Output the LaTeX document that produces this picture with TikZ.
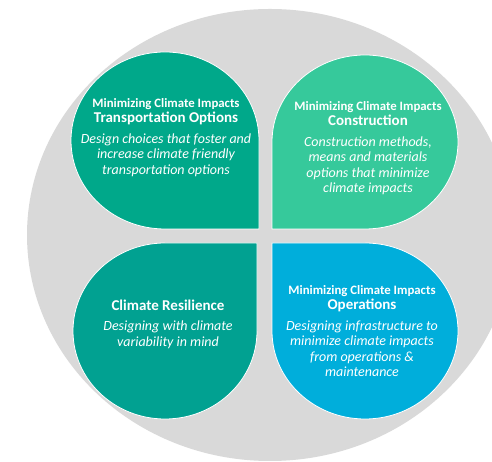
\documentclass[tikz,border=0pt]{standalone}
\usepackage{fontspec}
\setmainfont{Carlito}
\definecolor{bggrey}{RGB}{217,217,217}
\definecolor{cTL}{RGB}{0,168,138}
\definecolor{cTR}{RGB}{54,201,155}
\definecolor{cBL}{RGB}{1,161,145}
\definecolor{cBR}{RGB}{0,174,219}
\tikzset{
  petal/.style={draw=white, line width=0.8pt},
  headtext/.style={text=white, align=center, inner sep=0pt, font=\fontsize{13}{15}\selectfont\bfseries},
  desctext/.style={text=white, align=center, inner sep=0pt, font=\fontsize{14}{15.5}\selectfont\itshape},
}
\newcommand{\smallhead}[1]{{\fontsize{12.8}{15}\selectfont #1}}
\newcommand{\bighead}[1]{{\fontsize{15}{15}\selectfont #1}}
\begin{document}
\begin{tikzpicture}[x=1pt,y=1pt]
\clip (0,0) rectangle (492,462);
\fill[white] (0,0) rectangle (492,462);
\fill[bggrey] (270,227) ellipse[x radius=243, y radius=226];
% petals
\filldraw[petal, fill=cTL] (259,233) -- (165,233) arc[start angle=270, end angle=0, x radius=94, y radius=88.5] -- cycle;
\filldraw[petal, fill=cTR] (272,233) -- (272,320) arc[start angle=180, end angle=-90, x radius=93, y radius=87] -- cycle;
\filldraw[petal, fill=cBL] (257,219) -- (257,131) arc[start angle=0, end angle=-270, x radius=92, y radius=88] -- cycle;
\filldraw[petal, fill=cBR] (272,219) -- (365,219) arc[start angle=90, end angle=-180, x radius=93, y radius=88] -- cycle;
% texts
\node[headtext] (tlh) at (166,350.5) {\smallhead{Minimizing Climate Impacts}\\\bighead{Transportation Options}};
\node[desctext] (tld) at (166,307) {Design choices that foster and\\increase climate friendly\\transportation options};
\node[headtext] (trh) at (368,348.5) {\smallhead{Minimizing Climate Impacts}\\\bighead{Construction}};
\node[desctext] (trd) at (368,296) {Construction methods,\\means and materials\\options that minimize\\climate impacts};
\node[headtext] (blh) at (168,157) {\bighead{Climate Resilience}};
\node[desctext] (bld) at (168,127) {Designing with climate\\variability in mind};
\node[headtext] (brh) at (362,163.5) {\smallhead{Minimizing Climate Impacts}\\\bighead{Operations}};
\node[desctext] (brd) at (362,113.5) {Designing infrastructure to\\minimize climate impacts\\from operations \&\\maintenance};
\end{tikzpicture}
\end{document}
